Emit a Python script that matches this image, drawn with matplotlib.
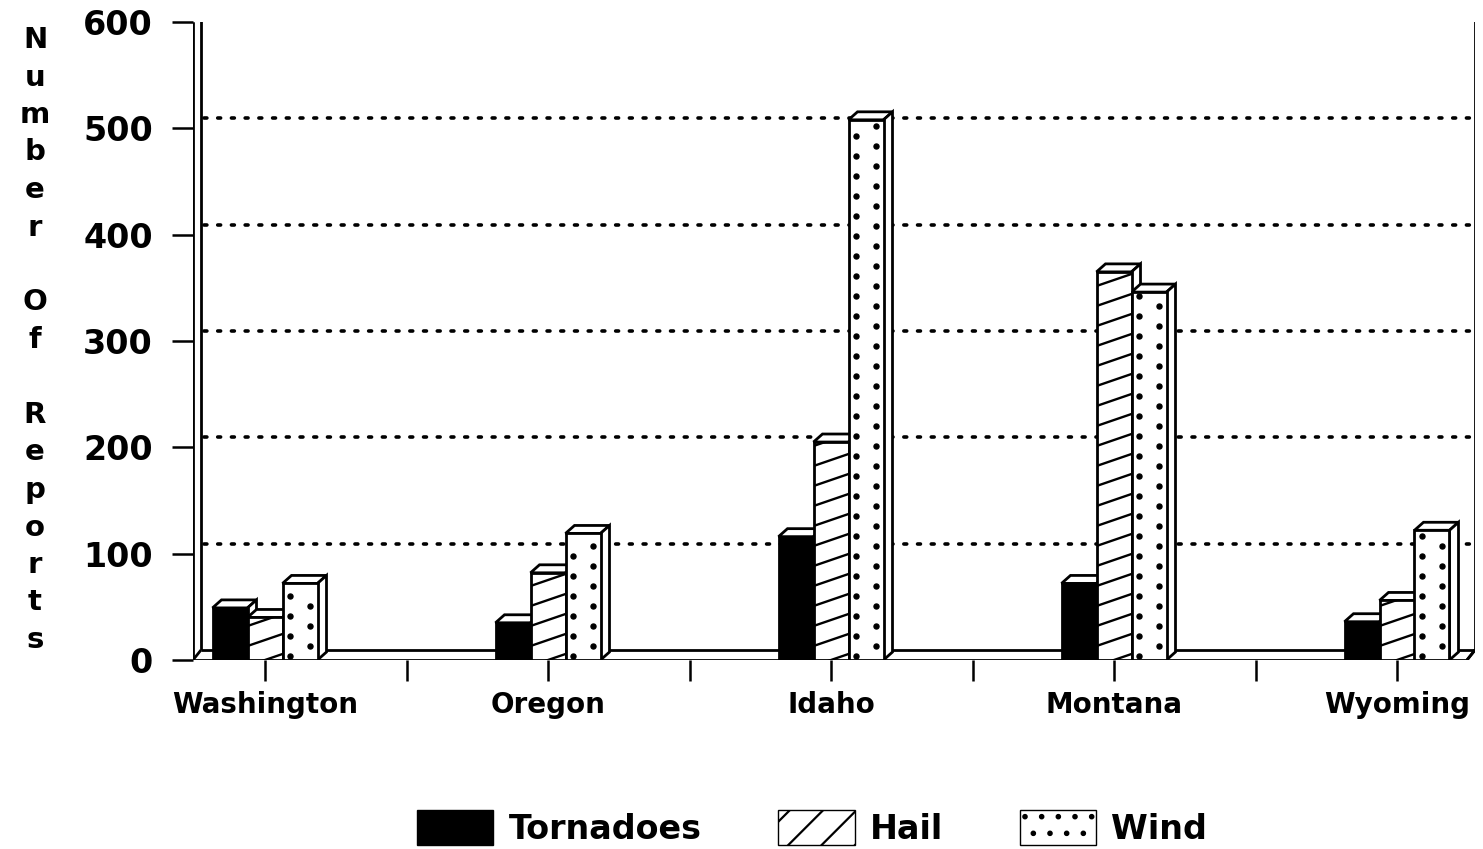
import numpy as np
import matplotlib
matplotlib.use('Agg')
import matplotlib.pyplot as plt
from matplotlib.patches import Polygon, Patch

# values
states = ['Washington', 'Oregon', 'Idaho', 'Montana', 'Wyoming']
tornadoes = [49, 35, 116, 72, 36]
hail = [40, 82, 205, 365, 56]
wind = [72, 119, 508, 346, 122]
y_ticks = [0, 100, 200, 300, 400, 500, 600]
grid_values = [100, 200, 300, 400, 500]
y_label = 'Number Of Reports'
series_names = ['Tornadoes', 'Hail', 'Wind']

plt.rcParams['font.family'] = 'DejaVu Sans'
plt.rcParams['font.weight'] = 'bold'
plt.rcParams['hatch.linewidth'] = 1.6

W, H = 1483, 849
fig = plt.figure(figsize=(W / 100, H / 100), dpi=100)

# axes placed in pixels: left wall front at x=193, right wall at 1475, 0 at y=660, 600 at y=22
ax_left, ax_right, ax_bottom, ax_top = 193, 1475, 660, 22
ax = fig.add_axes([ax_left / W, (H - ax_bottom) / H, (ax_right - ax_left) / W, (ax_bottom - ax_top) / H])
x_lo = -(265 - ax_left) / 283.0
x_hi = (ax_right - 265) / 283.0
ax.set_xlim(x_lo, x_hi)
ax.set_ylim(0, 600)
for s in ax.spines.values():
    s.set_visible(False)

# pixel sizes in data units
px_x = (x_hi - x_lo) / (ax_right - ax_left)
px_y = 600.0 / (ax_bottom - ax_top)

# depth of the fake 3d walls and bars
wall_dx, wall_dy = 8 * px_x, 10 * px_y
bar_dx, bar_dy = 9 * px_x, 8 * px_y

lw = 2.0
kw = dict(color='black', lw=lw, solid_capstyle='butt', zorder=1.5)

# back wall, left wall and floor
xb = x_lo + wall_dx
ax.plot([x_lo, x_lo], [0, 600], **kw)
ax.plot([xb, xb], [wall_dy, 600 + wall_dy], **kw)
ax.plot([x_lo, xb], [600, 600 + wall_dy], **kw)
ax.plot([xb, x_hi], [600 + wall_dy, 600 + wall_dy], **kw)
ax.plot([x_hi, x_hi], [wall_dy, 600 + wall_dy], **kw)
ax.plot([xb, x_hi], [wall_dy, wall_dy], **kw)
ax.plot([x_lo, x_hi - wall_dx], [0, 0], **kw)
ax.plot([x_hi - wall_dx, x_hi], [0, wall_dy], **kw)
for xx in [x_lo, x_hi - wall_dx]:
    ax.plot([xx, xx + wall_dx], [0, wall_dy], **kw)

# dotted grid on the back wall
for g in grid_values:
    ax.plot([xb + 3 * px_x, x_hi], [g + wall_dy, g + wall_dy], color='black',
            lw=2.6, linestyle=(0, (0.8, 3.0)), dash_capstyle='round', zorder=1)

bar_w = 35 * px_x
x = np.arange(len(states))
series = [tornadoes, hail, wind]
for k, vals in enumerate(series):
    xc = x + (k - 1) * bar_w
    for xi, h in zip(xc, vals):
        x0, x1 = xi - bar_w / 2, xi + bar_w / 2
        top = Polygon([(x0, h), (x0 + bar_dx, h + bar_dy), (x1 + bar_dx, h + bar_dy), (x1, h)],
                      closed=True, facecolor='white', edgecolor='black', lw=lw, zorder=2)
        side = Polygon([(x1, 0), (x1, h), (x1 + bar_dx, h + bar_dy), (x1 + bar_dx, bar_dy)],
                       closed=True, facecolor='white', edgecolor='black', lw=lw, zorder=2)
        ax.add_patch(top)
        ax.add_patch(side)
    if k == 0:
        ax.bar(xc, vals, width=bar_w, facecolor='black', edgecolor='black', lw=lw, zorder=3)
    elif k == 1:
        rects = ax.bar(xc, vals, width=bar_w, facecolor='white', edgecolor='black', lw=lw, zorder=3)
        rise = 12 * px_y
        step = 20 * px_y
        for r, xi, h in zip(rects, xc, vals):
            for y0 in np.arange(-rise + 6 * px_y, h, step):
                ln, = ax.plot([xi - bar_w / 2, xi + bar_w / 2], [y0, y0 + rise],
                              color='black', lw=1.7, zorder=3.5)
                ln.set_clip_path(r)
    else:
        rects = ax.bar(xc, vals, width=bar_w, facecolor='white', edgecolor='black', lw=lw, zorder=3)
        step = 20 * px_y
        for r, xi, h in zip(rects, xc, vals):
            for c, off in [(-0.28, 4), (0.28, 14)]:
                ys = np.arange(off * px_y, h - 3 * px_y, step)
                dots, = ax.plot(np.full(len(ys), xi + c * bar_w), ys, linestyle='none',
                                marker='o', ms=3.6, color='black', zorder=3.5)
                dots.set_clip_path(r)

# ticks
ax.set_yticks(y_ticks)
ax.set_yticklabels([str(v) for v in y_ticks], fontsize=24, fontweight='bold')
ax.tick_params(axis='y', direction='out', length=15, width=1.8, pad=14)
ax.set_xticks(x)
ax.set_xticklabels(states, fontsize=20, fontweight='bold')
ax.set_xticks(x[:-1] + 0.5, minor=True)
ax.tick_params(axis='x', which='both', direction='out', length=15, width=1.8, pad=7)

# stacked letter y label
for i, ch in enumerate(y_label):
    fig.text(35 / W, 1 - (40 + 37.5 * i) / H, ch, ha='center', va='center',
             fontsize=21, fontweight='bold')

handles = [Patch(facecolor='black', edgecolor='black'),
           Patch(facecolor='white', edgecolor='black', hatch='/'),
           Patch(facecolor='white', edgecolor='black', hatch='.')]
fig.legend(handles, series_names, loc='center', bbox_to_anchor=(812 / W, (H - 828) / H),
           ncol=3, frameon=False, handlelength=2.3, handleheight=1.2,
           handletextpad=0.45, columnspacing=2.3, prop={'weight': 'bold', 'size': 24})

fig.savefig('out.png', dpi=100)
